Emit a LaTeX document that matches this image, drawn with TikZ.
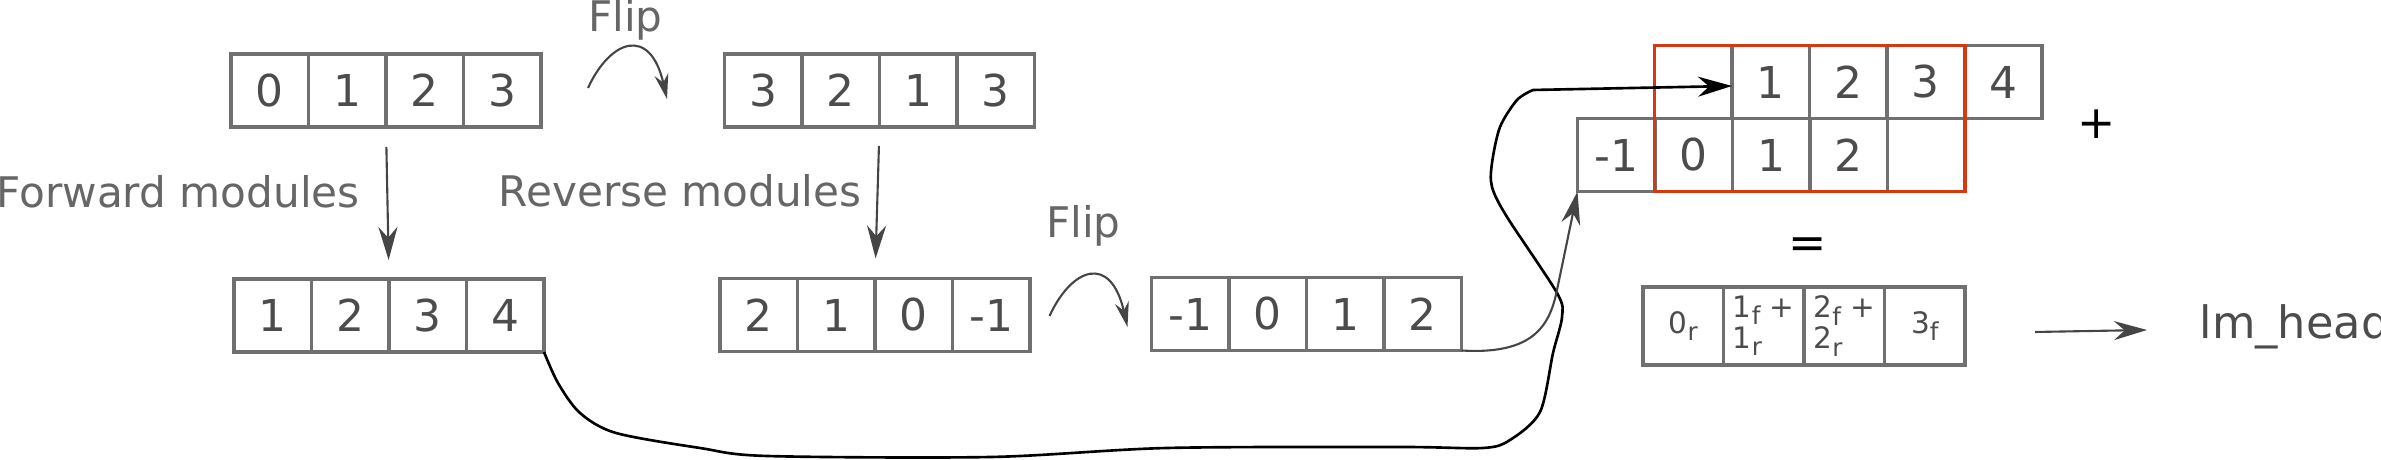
\documentclass[tikz,border=0pt]{standalone}
\usepackage{fontspec}
\setmainfont{DejaVu Sans}
\usetikzlibrary{arrows.meta,positioning}
\definecolor{redframe}{RGB}{214,56,16}
\def\cw{0.775}
\newcommand\cellrow[4]{\foreach \t [count=\i] in {#4} \node[cell] (#1\i) at ({#2+(\i-0.5)*\cw},#3) {\t};}
\newcommand\lowsub[1]{\raisebox{-0.45ex}{\fontsize{7}{7}\selectfont #1}}

\begin{document}
\begin{tikzpicture}[
	cell/.style={draw=black!56, line width=0.95pt, minimum width=\cw cm, minimum height=0.73cm, inner sep=0pt, outer sep=0pt, text=black!70, font=\fontsize{12.5}{15}\selectfont},
	rcell/.style={cell, minimum width=0.805cm, minimum height=0.78cm, align=left, font=\fontsize{8.4}{8.8}\selectfont},
	lbl/.style={text=black!60, inner sep=0pt, font=\fontsize{12}{14}\selectfont},
	conn/.style={draw=black!73, line width=0.6pt, -{Stealth[length=3.3mm,width=1.9mm]}},
	flip/.style={draw=black!73, line width=0.6pt, -{Stealth[length=2.5mm,width=1.4mm]}},
	wire/.style={black, line width=0.75pt, -{Stealth[length=3.4mm,width=2mm]}}
	]
			%%%%% START %%%%%
			\useasboundingbox (0,0) rectangle (23.81,-4.6);
			
			\cellrow{a}{2.31}{-0.905}{0,1,2,3}
			\cellrow{b}{7.245}{-0.905}{3,2,1,3}
			
			\cellrow{c}{2.34}{-3.155}{1,2,3,4}
			\cellrow{d}{7.20}{-3.15}{2,1,0,-1}
			\cellrow{e}{11.515}{-3.14}{-1,0,1,2}
			
			\cellrow{f}{16.545}{-0.82}{{},1,2,3,4}
			\cellrow{g}{15.775}{-1.55}{-1,0,1,2,{}}
			\draw[redframe, line width=0.95pt] (f1.north west) rectangle (g5.south east);
			
			\foreach \t [count=\i] in {0\lowsub{r}, {1\lowsub{f} +\\1\lowsub{r}}, {2\lowsub{f} +\\2\lowsub{r}}, 3\lowsub{f}}
				\node[rcell] (h\i) at ({16.43+(\i-0.5)*0.805},-3.26) {\t};
			
			\node[lbl, anchor=base west] (fwd) at (-0.04,-2.08) {Forward modules};
			\node[lbl, anchor=base west] (rev) at (4.98,-2.07) {Reverse modules};
			\node[lbl, anchor=base] (flipa) at (6.255,-0.32) {Flip};
			\node[lbl, anchor=base] (flipb) at (10.835,-2.38) {Flip};
			\node[anchor=base west, inner sep=0pt, text=black!70, font=\fontsize{12.7}{15}\selectfont] (lm) at (21.99,-3.39) {lm\_head};
			\node[inner sep=0pt, font=\fontsize{13}{15}\selectfont] (plus) at (20.97,-1.24) {+};
			\node[inner sep=0pt, font=\fontsize{13}{15}\selectfont] (eq) at (18.08,-2.48) {=};
			
			\draw[conn, shorten <=0.2cm, shorten >=0.19cm] (a3.south west) -- (c3.north west);
			\draw[conn, shorten <=0.19cm, shorten >=0.2cm] (b3.south west) -- (d3.north west);
			
			\coordinate (fa0) at (5.88,-0.88);
			\coordinate (fa1) at (6.67,-0.99);
			\coordinate (fb0) at (10.495,-3.16);
			\coordinate (fb1) at (11.275,-3.27);
			\draw[flip] (fa0) .. controls +(0.22,0.48) and +(-0.17,0.74) .. (fa1);
			\draw[flip] (fb0) .. controls +(0.22,0.48) and +(-0.17,0.74) .. (fb1);
			
			\draw[wire] plot[smooth, tension=0.5] coordinates {(c4.south east) (5.58,-3.83) (5.80,-4.13) (6.16,-4.33) (7.00,-4.48) (7.67,-4.56) (9.91,-4.57) (11.67,-4.48) (14.00,-4.47) (14.83,-4.48) (15.10,-4.40) (15.40,-4.12) (15.53,-3.53) (15.62,-3.17) (15.57,-2.93) (15.07,-2.17) (14.92,-1.87) (14.92,-1.63) (15.00,-1.27) (15.17,-1.00) (15.33,-0.90)} -- ([yshift=-0.04cm]f1.east);
			\draw[conn] (e4.south east) .. controls (15.35,-3.55) and (15.50,-3.24) .. (15.57,-2.90) -- (g1.south west);
			
			\draw[conn] ([xshift=0.7cm,yshift=-0.06cm]h4.east) -- ([xshift=-0.52cm,yshift=0.09cm]lm.base west);
			%%%%% END %%%%%
\end{tikzpicture}
\end{document}
